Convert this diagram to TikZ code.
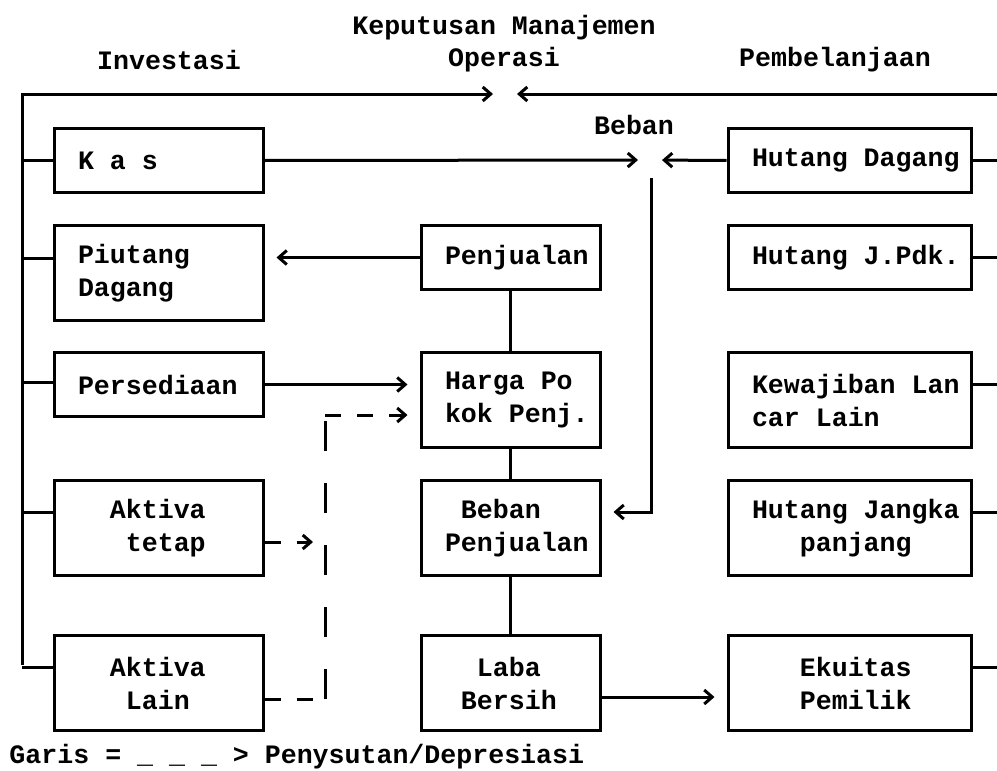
\documentclass[tikz,border=0pt]{standalone}
\usepackage{fontspec}
\setmonofont{Liberation Mono}[WordSpace={1,0,0}]
\usetikzlibrary{arrows.meta}

\begin{document}
\begin{tikzpicture}[
  x=0.5pt, y=-0.5pt,
  font=\ttfamily\bfseries\fontsize{13.3}{16.5}\selectfont,
  line width=1.5pt,
  acct/.style={draw, anchor=north, inner xsep=12pt, inner ysep=0pt, align=flush left, minimum height=32pt},
  lcol/.style={acct, text width=80.5pt},
  mcol/.style={acct, text width=65.5pt},
  rcol/.style={acct, text width=97.5pt},
  tall/.style={minimum height=47.5pt},
  lbl/.style={inner sep=0pt},
  arr/.style={-{Straight Barb[length=4pt,width=7pt]}, shorten >=6pt},
  dshort/.style={dash pattern=on 8pt off 8pt},
  dlong/.style={dash pattern=on 15pt off 16pt}
]
  \useasboundingbox (0,0) rectangle (997,771);

  % headings
  \node[lbl] (kmtitle) at (504,28) {Keputusan Manajemen};
  \node[lbl] (optitle) at (504,60) {Operasi};
  \node[lbl] (invtitle) at (169,60) {Investasi};
  \node[lbl] (pbtitle) at (835,60) {Pembelanjaan};
  \node[lbl] (bebtitle) at (634,125) {Beban};

  % investasi
  \node[lcol] (kas) at (158.5,127) {K a s};
  \node[lcol, tall] (piutang) at (158.5,224) {Piutang\\Dagang};
  \node[lcol] (persediaan) at (158.5,351) {Persediaan};
  \node[lcol, tall] (tetap) at (158.5,479) {\hphantom{xx}Aktiva\\\hphantom{xxx}tetap};
  \node[lcol, tall] (lain) at (158.5,634) {\hphantom{xx}Aktiva\\\hphantom{xxx}Lain};

  % operasi
  \node[mcol] (penjualan) at (510.5,224) {Penjualan};
  \node[mcol, tall] (harga) at (510.5,351) {Harga~Po\\kok~Penj.};
  \node[mcol, tall] (bebanp) at (510.5,479) {\hphantom{x}Beban\\Penjualan};
  \node[mcol, tall] (laba) at (510.5,634) {\hphantom{xx}Laba\\\hphantom{x}Bersih};

  % pembelanjaan
  \node[rcol] (hdagang) at (849.5,127) {Hutang~Dagang};
  \node[rcol] (hjpdk) at (849.5,224) {Hutang~J.Pdk.};
  \node[rcol, tall] (kewajiban) at (849.5,351) {Kewajiban~Lan\\car~Lain};
  \node[rcol, tall] (hjangka) at (849.5,479) {Hutang~Jangka\\\hphantom{xxx}panjang};
  \node[rcol, tall] (ekuitas) at (849.5,634) {\hphantom{xxx}Ekuitas\\\hphantom{xxx}Pemilik};

  \node[lbl, anchor=west] (legend) at (8,757) {Garis = \_ \_ \_ > Penysutan/Depresiasi};

  \coordinate (ltop) at (22,94);
  \coordinate (lbot) at (22,665);
  \coordinate (rtop) at (1004,94);
  \coordinate (rbot) at (1004,665);
  \coordinate (ops) at (505,94);
  \coordinate (beban) at (650,160);
  \coordinate (bebtop) at (651,178);
  \coordinate (dtop) at (325,415);
  \coordinate (dbot) at ([yshift=-8pt]lain.east -| dtop);

  \draw[arr] (lbot) -- (ltop) -- (ops);
  \draw[arr] (rbot) -- (rtop) -- (ops);
  \foreach \n/\s in {kas/0,piutang/7.5,persediaan/1,tetap/8,lain/8}
    \draw ([yshift=\s pt]\n.west) -- ([yshift=\s pt]\n.west -| ltop);
  \foreach \n/\s in {hdagang/0,hjpdk/0,kewajiban/8,hjangka/8,ekuitas/8}
    \draw ([yshift=\s pt]\n.east) -- ([yshift=\s pt]\n.east -| rtop);
  \foreach \a/\b in {penjualan/harga,harga/bebanp,bebanp/laba} \draw (\a) -- (\b);

  \draw[arr] (kas.east) -- (beban);
  \draw[arr] (hdagang.west) -- (beban);
  \draw[arr] (bebtop) |- ([yshift=8pt]bebanp.east);
  \draw[arr] (penjualan.west) -- (penjualan.west -| piutang.east);
  \draw[arr] (persediaan.east) -- (persediaan.east -| harga.west);
  \draw[arr] ([yshift=-7pt]laba.east) -- ([yshift=-7pt]laba.east -| ekuitas.west);

  % penyusutan
  \draw[dshort, arr] ([yshift=-7pt]tetap.east) -- ([yshift=-7pt]tetap.east -| dtop);
  \draw[dshort] ([yshift=-8pt]lain.east) -- (dbot);
  \draw[dlong] (dbot) -- (dtop);
  \draw[dshort, arr] (dtop) -- (dtop -| harga.west);
\end{tikzpicture}
\end{document}
